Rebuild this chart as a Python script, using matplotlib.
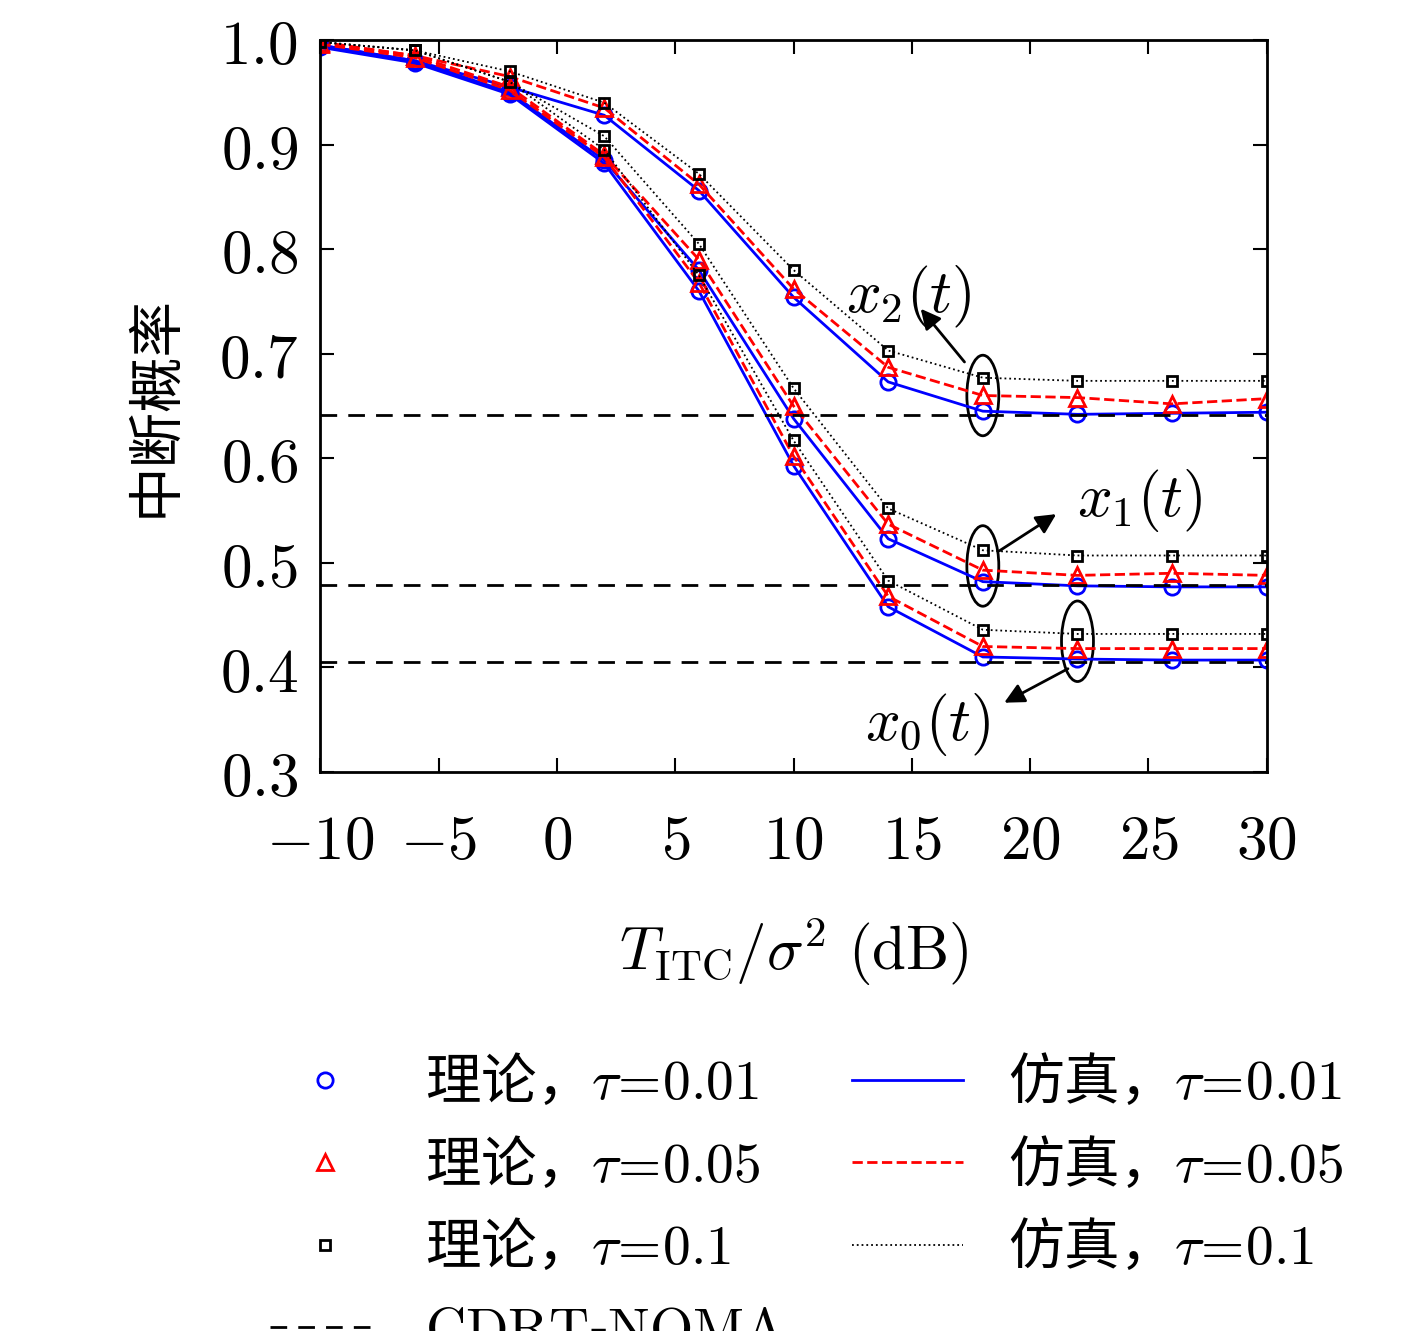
import matplotlib
matplotlib.use("Agg")
import matplotlib.pyplot as plt
from matplotlib.patches import Ellipse
from matplotlib.lines import Line2D

plt.rcParams['mathtext.fontset'] = 'cm'
plt.rcParams['font.family'] = ['Noto Sans CJK SC', 'DejaVu Serif']

snr = [-10, -6, -2, 2, 6, 10, 14, 18, 22, 26, 30]

# x2(t)
x2_t001 = [0.995, 0.980, 0.955, 0.928, 0.856, 0.754, 0.673, 0.645, 0.642, 0.643, 0.644]
x2_t005 = [0.998, 0.985, 0.965, 0.935, 0.862, 0.762, 0.687, 0.660, 0.658, 0.652, 0.657]
x2_t01 = [0.998, 0.990, 0.970, 0.940, 0.872, 0.780, 0.703, 0.677, 0.674, 0.674, 0.674]
# x1(t)
x1_t001 = [0.995, 0.980, 0.950, 0.885, 0.780, 0.638, 0.523, 0.482, 0.478, 0.477, 0.477]
x1_t005 = [0.997, 0.985, 0.955, 0.890, 0.790, 0.650, 0.537, 0.493, 0.488, 0.490, 0.488]
x1_t01 = [0.998, 0.990, 0.960, 0.908, 0.805, 0.667, 0.552, 0.512, 0.507, 0.507, 0.507]
# x0(t)
x0_t001 = [0.993, 0.978, 0.948, 0.882, 0.760, 0.593, 0.458, 0.410, 0.408, 0.407, 0.407]
x0_t005 = [0.996, 0.983, 0.952, 0.888, 0.768, 0.602, 0.468, 0.420, 0.418, 0.418, 0.418]
x0_t01 = [0.998, 0.990, 0.960, 0.895, 0.775, 0.617, 0.483, 0.436, 0.432, 0.432, 0.432]

cdrt = [0.641, 0.479, 0.405]

fig = plt.figure(figsize=(14.17, 13.31), dpi=100)
ax = fig.add_axes([0.226, 0.42, 0.668, 0.55])

styles = [('b', 'o', '-', '0.01'), ('r', '^', '--', '0.05'), ('k', 's', ':', '0.1')]
for group in [(x2_t001, x2_t005, x2_t01), (x1_t001, x1_t005, x1_t01), (x0_t001, x0_t005, x0_t01)]:
    for y, (c, m, ls, tau) in zip(group, styles):
        ms = 7 if m == 's' else 11
        ax.plot(snr, y, color=c, ls=ls, lw=2 if ls != ':' else 1.3)
        ax.plot(snr, y, color=c, ls='none', marker=m, mfc='none', mew=2, ms=ms)

for v in cdrt:
    ax.axhline(v, color='k', ls='--', lw=2, dashes=(6, 4))

# annotations
for (xc, yc) in [(18, 0.66), (18, 0.497), (22, 0.425)]:
    ax.add_patch(Ellipse((xc, yc), 1.35, 0.077, fill=False, ec='k', lw=2))
arrow = dict(arrowstyle='-|>', color='k', lw=2, mutation_scale=30)
ax.annotate('', xy=(15.3, 0.745), xytext=(17.3, 0.69), arrowprops=arrow)
ax.annotate('', xy=(21.2, 0.548), xytext=(18.6, 0.51), arrowprops=arrow)
ax.annotate('', xy=(18.8, 0.365), xytext=(21.7, 0.40), arrowprops=arrow)
ax.text(12.2, 0.755, r'$x_2(t)$', fontsize=44, ha='left', va='center')
ax.text(22.0, 0.56, r'$x_1(t)$', fontsize=44, ha='left', va='center')
ax.text(13.0, 0.345, r'$x_0(t)$', fontsize=44, ha='left', va='center')

ax.set_xlim(-10, 30)
ax.set_ylim(0.3, 1.0)
xt = [-10, -5, 0, 5, 10, 15, 20, 25, 30]
ax.set_xticks(xt)
ax.set_xticklabels([f'${v}$' for v in xt], fontsize=44)
yt = [0.3, 0.4, 0.5, 0.6, 0.7, 0.8, 0.9, 1.0]
ax.set_yticks(yt)
ax.set_yticklabels([f'${v:.1f}$' for v in yt], fontsize=44)
ax.tick_params(direction='in', length=10, width=1.5, top=True, right=True)
ax.tick_params(axis='x', pad=28)
ax.tick_params(axis='y', pad=16)
for s in ax.spines.values():
    s.set_linewidth(2)
ax.set_xlabel(r'$T_{\mathrm{ITC}}/\sigma^2\ (\mathrm{dB})$', fontsize=44, labelpad=30)
ax.set_ylabel('中断概率', fontsize=40, labelpad=25)

handles, labels = [], []
for c, m, ls, tau in styles:
    handles.append(Line2D([], [], color=c, marker=m, ls='none', mfc='none', mew=2, ms=11 if m != 's' else 7))
    labels.append(f'理论，$\\tau\\!=\\!{tau}$')
handles.append(Line2D([], [], color='k', ls='--', lw=2, dashes=(6, 4)))
labels.append(r'$\mathrm{CDRT}$-$\mathrm{NOMA}$')
for c, m, ls, tau in styles:
    handles.append(Line2D([], [], color=c, ls=ls, lw=2 if ls != ':' else 1.3))
    labels.append(f'仿真，$\\tau\\!=\\!{tau}$')
fig.legend(handles, labels, ncol=2, loc='upper left', bbox_to_anchor=(0.155, 0.245),
           frameon=False, fontsize=40, handlelength=2.0, columnspacing=1.2,
           labelspacing=0.45, handletextpad=0.8)

fig.savefig('out.png', dpi=100)
